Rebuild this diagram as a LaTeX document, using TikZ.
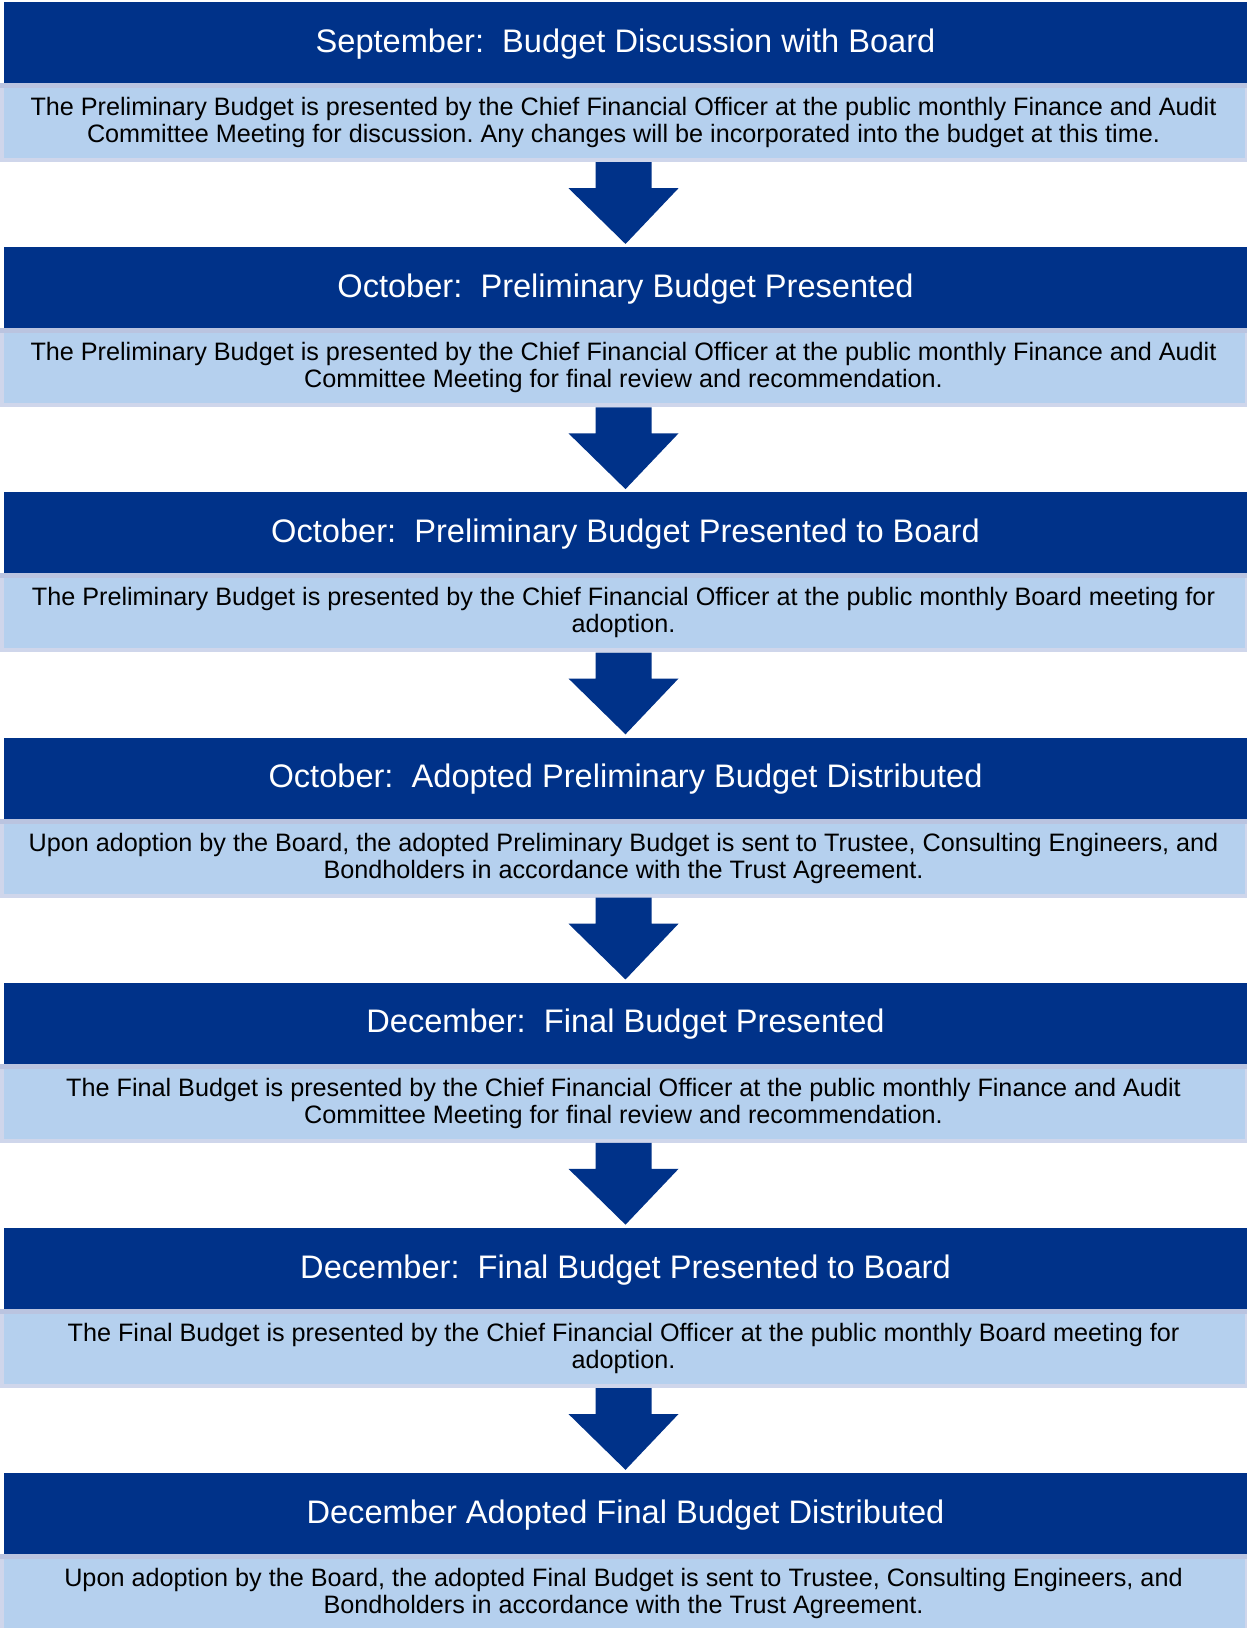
\documentclass[tikz,border=0pt]{standalone}
\usepackage{fontspec}
\setmainfont{Liberation Sans}
\newfontfamily\hfont{Liberation Sans}
\usetikzlibrary{calc}
\frenchspacing
\definecolor{hdrblue}{RGB}{0,50,137}
\definecolor{lightfill}{RGB}{181,208,238}
\definecolor{lavender}{RGB}{207,214,235}
\definecolor{lavtop}{RGB}{186,196,224}
\tikzset{
  hdrbox/.style={rectangle, fill=hdrblue, inner sep=0pt, minimum width=1243pt, minimum height=81pt,
    text=white, font=\hfont\fontsize{32.6}{36}\selectfont, text height=23.5pt, text depth=4pt},
  bodybox/.style={rectangle, fill=lavender, inner sep=0pt, minimum width=1247pt, minimum height=79pt,
    align=center, text=black, font=\fontsize{25.2}{27}\selectfont,
    path picture={
      \fill[lavtop] (path picture bounding box.north west) rectangle ([yshift=-5pt]path picture bounding box.north east);
      \fill[lightfill] ([xshift=4pt,yshift=-5pt]path picture bounding box.north west) rectangle ([xshift=-2pt,yshift=4pt]path picture bounding box.south east);
    }},
  flowarrow/.style={fill=hdrblue}
}
\newcommand{\downarrowshape}[2]{%
  \fill[flowarrow] ([xshift=-28pt]#1.south) -- ([xshift=-28pt,yshift=-26pt]#1.south)
    -- ([xshift=-55pt,yshift=-26pt]#1.south) -- ([yshift=3pt]#2.north)
    -- ([xshift=55pt,yshift=-26pt]#1.south) -- ([xshift=28pt,yshift=-26pt]#1.south)
    -- ([xshift=28pt]#1.south) -- cycle;}
\begin{document}
\begin{tikzpicture}[x=1pt,y=-1pt]
\useasboundingbox (0,0) rectangle (1247,1628);
\fill[white] (0,0) rectangle (1247,1628);
\def\pitch{245.17}
% headers
\node[hdrbox] (h1) at (625.5, {1+0*\pitch+41.5}) {September:\ \ Budget Discussion with Board};
\node[hdrbox] (h2) at (625.5, {1+1*\pitch+41.5}) {October:\ \ Preliminary Budget Presented};
\node[hdrbox] (h3) at (625.5, {1+2*\pitch+41.5}) {October:\ \ Preliminary Budget Presented to Board};
\node[hdrbox] (h4) at (625.5, {1+3*\pitch+41.5}) {October:\ \ Adopted Preliminary Budget Distributed};
\node[hdrbox] (h5) at (625.5, {1+4*\pitch+41.5}) {December:\ \ Final Budget Presented};
\node[hdrbox] (h6) at (625.5, {1+5*\pitch+41.5}) {December:\ \ Final Budget Presented to Board};
\node[hdrbox] (h7) at (625.5, {1+6*\pitch+41.5}) {December Adopted Final Budget Distributed};
% bodies
\node[bodybox] (b1) at (623.5, {1+0*\pitch+121.5}) {The Preliminary Budget is presented by the Chief Financial Officer at the public monthly Finance and Audit\\Committee Meeting for discussion. Any changes will be incorporated into the budget at this time.};
\node[bodybox] (b2) at (623.5, {1+1*\pitch+121.5}) {The Preliminary Budget is presented by the Chief Financial Officer at the public monthly Finance and Audit\\Committee Meeting for final review and recommendation.};
\node[bodybox] (b3) at (623.5, {1+2*\pitch+121.5}) {The Preliminary Budget is presented by the Chief Financial Officer at the public monthly Board meeting for\\adoption.};
\node[bodybox] (b4) at (623.5, {1+3*\pitch+121.5}) {Upon adoption by the Board, the adopted Preliminary Budget is sent to Trustee, Consulting Engineers, and\\Bondholders in accordance with the Trust Agreement.};
\node[bodybox] (b5) at (623.5, {1+4*\pitch+121.5}) {The Final Budget is presented by the Chief Financial Officer at the public monthly Finance and Audit\\Committee Meeting for final review and recommendation.};
\node[bodybox] (b6) at (623.5, {1+5*\pitch+121.5}) {The Final Budget is presented by the Chief Financial Officer at the public monthly Board meeting for\\adoption.};
\node[bodybox] (b7) at (623.5, {1+6*\pitch+121.5}) {Upon adoption by the Board, the adopted Final Budget is sent to Trustee, Consulting Engineers, and\\Bondholders in accordance with the Trust Agreement.};
% arrows
\downarrowshape{b1}{h2}
\downarrowshape{b2}{h3}
\downarrowshape{b3}{h4}
\downarrowshape{b4}{h5}
\downarrowshape{b5}{h6}
\downarrowshape{b6}{h7}
\end{tikzpicture}
\end{document}
